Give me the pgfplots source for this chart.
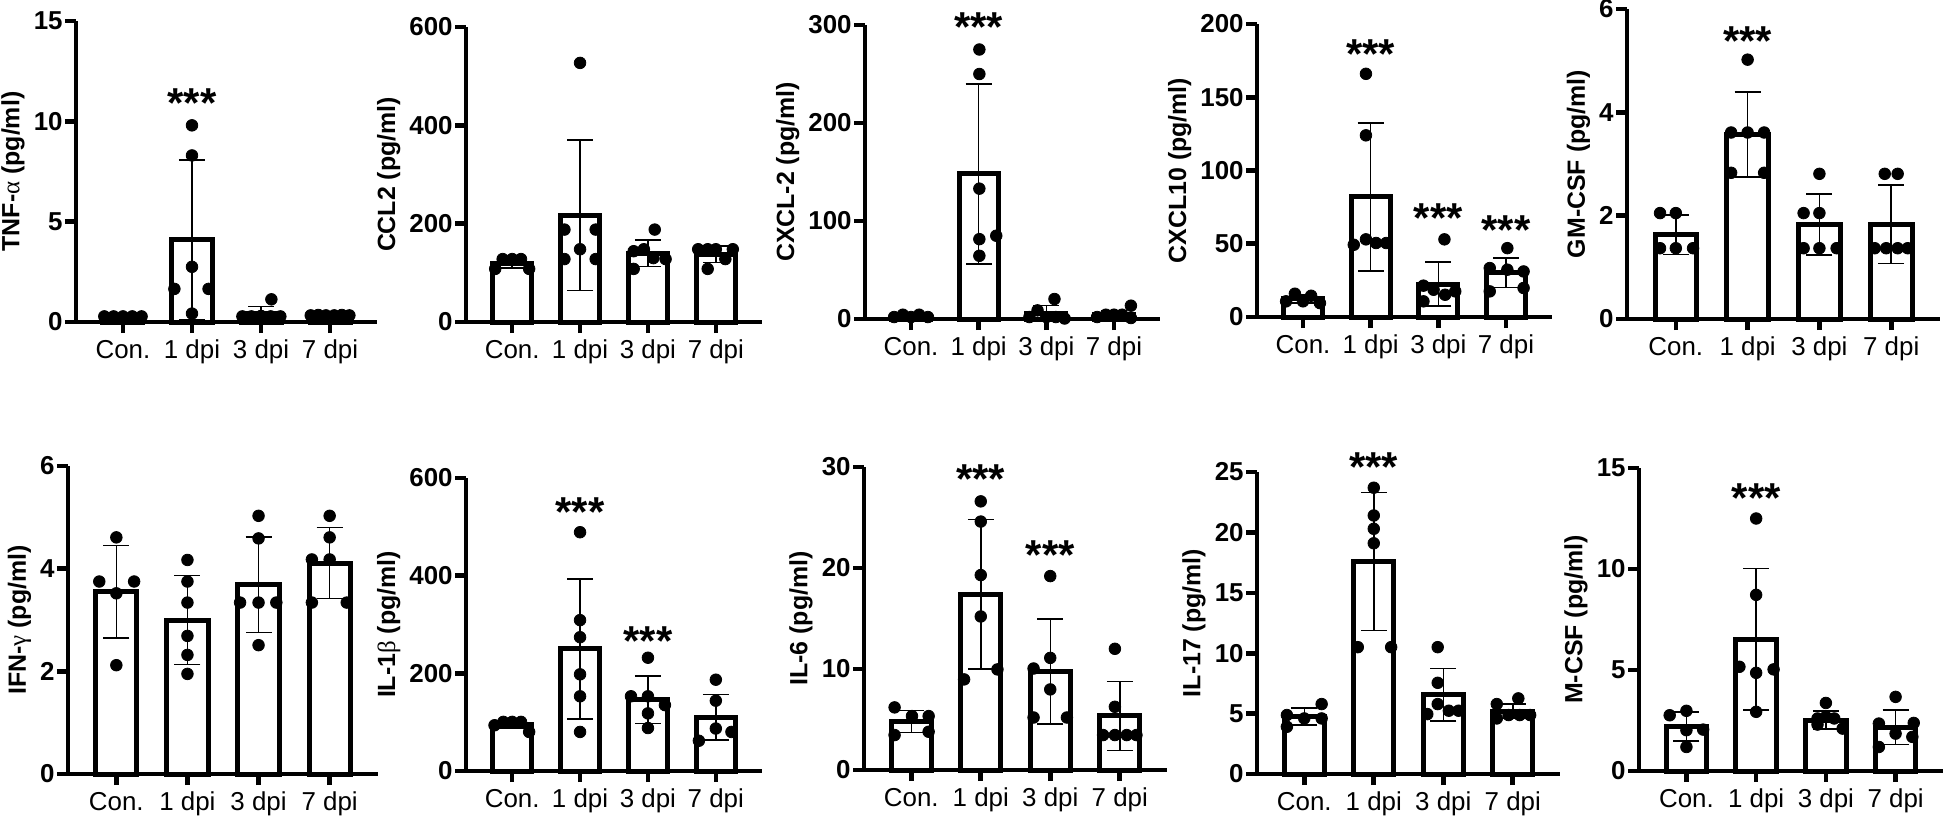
\documentclass[border=0pt]{standalone}
\usepackage{pgfplots}
\pgfplotsset{compat=1.18}
\usepackage{fontspec}
\setmainfont{Liberation Sans}
\newfontfamily\grk{Liberation Serif}

\pgfplotsset{
  panel/.style={
    scale only axis, anchor=south west, clip=false,
    axis lines*=left,
    axis line style={line width=2.3bp},
    xmin=-0.68, xmax=3.68, ymin=0,
    xtick={0,1,2,3}, xticklabels={Con.,1 dpi,3 dpi,7 dpi},
    tick align=outside, major tick length=5.5bp,
    every tick/.style={black, line width=2.3bp},
    minor tick num=0,
    /pgf/number format/assume math mode=true,
    xticklabel style={font=\fontsize{13}{15}\selectfont},
    yticklabel style={font=\fontsize{13}{15}\selectfont\bfseries, inner xsep=1bp},
    ylabel style={font=\fontsize{12.5}{15}\selectfont\bfseries},
  },
  bars/.style={ybar, bar width=0.58, draw=black, fill=white, line width=2.5bp,
    error bars/.cd, y dir=both, y explicit,
    error bar style={line width=0.75bp},
    error mark options={line width=0.75bp, mark size=6.5bp, rotate=90}},
  dots/.style={only marks, mark=*, mark size=2.9bp, black},
}
\tikzset{stars/.style={font=\fontsize{21}{21}\selectfont\bfseries, inner sep=0pt, yshift=-2bp}}

\begin{document}
\begin{tikzpicture}

% top row
\begin{axis}[panel, at={(38bp,-161bp)}, width=150.5bp, height=150.5bp,
  ymax=15, ytick={0,5,10,15}, ylabel={TNF-{\grk\mdseries α} (pg/ml)}]
\addplot[bars] coordinates {(0,0.28) +- (0,0.05) (1,4.1) +- (0,3.97) (2,0.42) +- (0,0.36) (3,0.35) +- (0,0.05)};
\addplot[dots] coordinates {(-0.27,0.28) (-0.135,0.28) (0,0.28) (0.135,0.28) (0.27,0.28)
 (1,9.8) (1,8.3) (1,2.75) (0.745,1.65) (1.24,1.65) (1,0.42)
 (1.73,0.28) (1.86,0.28) (2,0.3) (2.14,0.28) (2.28,0.28) (2.15,1.13)
 (2.72,0.33) (2.83,0.35) (2.94,0.33) (3.06,0.33) (3.17,0.35) (3.28,0.33)};
\node[stars] at (1,11.1) {***};
\end{axis}

\begin{axis}[panel, at={(233bp,-161bp)}, width=148bp, height=147.5bp,
  ymax=600, ytick={0,200,400,600}, ylabel={CCL2 (pg/ml)}]
\addplot[bars] coordinates {(0,120) +- (0,10) (1,217) +- (0,153) (2,140) +- (0,27) (3,138) +- (0,17)};
\addplot[dots] coordinates {(-0.25,108) (-0.14,128) (0,128) (0.13,128) (0.25,108)
 (1,527) (0.77,188) (1.23,188) (1,148) (0.77,128) (1.23,128)
 (2.1,188) (1.79,144) (1.94,148) (2.08,130) (2.26,128) (1.79,108)
 (2.74,148) (2.88,148) (3,148) (3.25,148) (3.14,128) (2.88,108)};
\end{axis}

\begin{axis}[panel, at={(432.5bp,-159.5bp)}, width=147.5bp, height=147bp,
  ymax=300, ytick={0,100,200,300}, ylabel={CXCL-2 (pg/ml)}]
\addplot[bars] coordinates {(0,3) +- (0,1.3) (1,148) +- (0,92) (2,5.9) +- (0,7.7) (3,5) +- (0,3.8)};
\addplot[dots] coordinates {(-0.25,2) (-0.12,4.4) (0,2) (0.12,4.4) (0.25,2)
 (1.01,275) (1.01,250) (1.01,133) (1.01,81.5) (1.26,85) (1.01,64.5)
 (2.12,20.4) (1.87,8.8) (1.75,2) (2,2) (2.14,2) (2.27,0.5)
 (3.25,13.6) (2.75,2) (2.88,4.4) (3,4.4) (3.12,4.4) (3.25,1)};
\node[stars] at (1,302) {***};
\end{axis}

\begin{axis}[panel, at={(628.5bp,-158.5bp)}, width=147.5bp, height=146.5bp,
  ymax=200, ytick={0,50,100,150,200}, ylabel={CXCL10 (pg/ml)}]
\addplot[bars] coordinates {(0,12.3) +- (0,2.8) (1,82) +- (0,50.5) (2,22.5) +- (0,15) (3,30.2) +- (0,10)};
\addplot[dots] coordinates {(-0.25,10.7) (-0.12,15.9) (0,10.7) (0.12,14.5) (0.25,9.5)
 (0.93,166) (0.93,124) (0.75,49.3) (0.93,53) (1.08,50.5) (1.23,50.5)
 (2.09,53) (1.78,21.4) (1.93,18.6) (2.1,15.2) (2.25,17.5) (1.78,10.7)
 (3.02,47) (2.76,33.4) (3.02,32.3) (3.26,31.1) (2.76,17.5) (3.26,19.8)};
\node[stars] at (1,182) {***};
\node[stars] at (2,70) {***};
\node[stars] at (3,62) {***};
\end{axis}

\begin{axis}[panel, at={(813.5bp,-159.5bp)}, width=156.5bp, height=155bp,
  ymax=6, ytick={0,2,4,6}, ylabel={GM-CSF (pg/ml)}]
\addplot[bars] coordinates {(0,1.63) +- (0,0.38) (1,3.57) +- (0,0.82) (2,1.83) +- (0,0.59) (3,1.83) +- (0,0.76)};
\addplot[dots] coordinates {(-0.22,2.05) (0,2.05) (-0.22,1.37) (0,1.37) (0.24,1.37)
 (1,5.02) (0.77,3.61) (1,3.61) (1.23,3.61) (0.77,2.83) (1.23,2.83)
 (2,2.81) (1.78,2.05) (2,2.05) (1.78,1.37) (2,1.37) (2.24,1.37)
 (2.91,2.81) (3.09,2.81) (2.77,1.37) (2.93,1.37) (3.09,1.37) (3.23,1.37)};
\node[stars] at (1,5.46) {***};
\end{axis}

% bottom row
\begin{axis}[panel, at={(34bp,-387bp)}, width=155bp, height=154bp,
  ymax=6, ytick={0,2,4,6}, ylabel={IFN-{\grk\mdseries γ} (pg/ml)}]
\addplot[bars] coordinates {(0,3.55) +- (0,0.9) (1,3.0) +- (0,0.87) (2,3.69) +- (0,0.93) (3,4.11) +- (0,0.69)};
\addplot[dots] coordinates {(0,4.61) (-0.24,3.75) (0.25,3.75) (0,3.52) (0,2.12)
 (1,4.17) (1,3.75) (1,3.34) (1,2.69) (1,2.32) (1,1.95)
 (2,5.03) (2,4.59) (1.74,3.34) (2,3.34) (2.25,3.34) (2,2.51)
 (3,5.03) (3,4.61) (2.75,4.18) (3,4.18) (2.75,3.34) (3.24,3.34)};
\end{axis}

\begin{axis}[panel, at={(233bp,-385.5bp)}, width=148bp, height=146.5bp,
  ymax=600, ytick={0,200,400,600}, ylabel={IL-1{\grk\mdseries β} (pg/ml)}]
\addplot[bars] coordinates {(0,95) +- (0,7) (1,250) +- (0,143) (2,146) +- (0,49) (3,110) +- (0,47)};
\addplot[dots] coordinates {(-0.26,93.7) (-0.13,100.6) (0,100.6) (0.13,100.6) (0.25,80)
 (1,489) (1,309) (1,274) (1,198) (1,153) (1,80)
 (2,232) (1.75,153) (2,153) (2.25,135) (2,118) (2,88)
 (3,187) (3,144) (3,87) (2.75,62) (3.23,80)};
\node[stars] at (1,538) {***};
\node[stars] at (2,274) {***};
\end{axis}

\begin{axis}[panel, at={(432bp,-385bp)}, width=151.5bp, height=151.5bp,
  ymax=30, ytick={0,10,20,30}, ylabel={IL-6 (pg/ml)}]
\addplot[bars] coordinates {(0,4.8) +- (0,1.1) (1,17.4) +- (0,7.4) (2,9.75) +- (0,5.2) (3,5.35) +- (0,3.4)};
\addplot[dots] coordinates {(-0.24,6.2) (0.01,5.34) (0.25,5.34) (-0.24,3.46) (0.25,3.79)
 (1,26.6) (1,24.6) (1,19.3) (1,15.2) (0.76,8.97) (1.24,9.96)
 (2,19.2) (2,11.1) (1.76,10.05) (2,7.98) (1.76,5.2) (2.24,5.2)
 (2.93,12) (2.93,6.26) (2.76,3.46) (2.93,3.46) (3.1,3.46) (3.24,3.46)};
\node[stars] at (1,29.2) {***};
\node[stars] at (2,21.7) {***};
\end{axis}

\begin{axis}[panel, at={(628.5bp,-387bp)}, width=151.5bp, height=151bp,
  ymax=25, ytick={0,5,10,15,20,25}, ylabel={IL-17 (pg/ml)}]
\addplot[bars] coordinates {(0,4.75) +- (0,0.7) (1,17.6) +- (0,5.7) (2,6.55) +- (0,2.17) (3,5.2) +- (0,0.6)};
\addplot[dots] coordinates {(-0.25,4.88) (-0.25,3.91) (0,4.6) (0.25,5.79) (0.25,4.6)
 (1,23.7) (1,21.4) (1,20.3) (1,19.1) (0.77,10.5) (1.25,10.5)
 (1.92,10.5) (1.92,7.55) (1.77,4.96) (1.92,5.79) (2.08,5.24) (2.22,5.24)
 (2.77,5.79) (3.08,6.26) (2.77,4.6) (2.94,4.88) (3.1,4.88) (3.25,4.88)};
\node[stars] at (1,25.7) {***};
\end{axis}

\begin{axis}[panel, at={(819.5bp,-385.5bp)}, width=152bp, height=151.5bp,
  ymax=15, ytick={0,5,10,15}, ylabel={M-CSF (pg/ml)}]
\addplot[bars] coordinates {(0,2.2) +- (0,0.72) (1,6.53) +- (0,3.5) (2,2.52) +- (0,0.45) (3,2.17) +- (0,0.85)};
\addplot[dots] coordinates {(-0.24,2.76) (0,2.98) (0.24,2.05) (0,2.02) (0,1.19)
 (1,12.5) (1,8.72) (0.76,5.16) (1,4.86) (1.25,5.03) (1,2.93)
 (2,3.37) (1.88,2.6) (2,2.68) (2.12,2.6) (2.24,2.1) (1.88,2.3)
 (3,3.67) (2.76,2.35) (3.26,2.38) (3,1.85) (3.24,1.69) (2.76,1.19)};
\node[stars] at (1,13.7) {***};
\end{axis}

\pgfresetboundingbox
\path[use as bounding box] (0,0) rectangle (972bp,-408.5bp);
\end{tikzpicture}
\end{document}
